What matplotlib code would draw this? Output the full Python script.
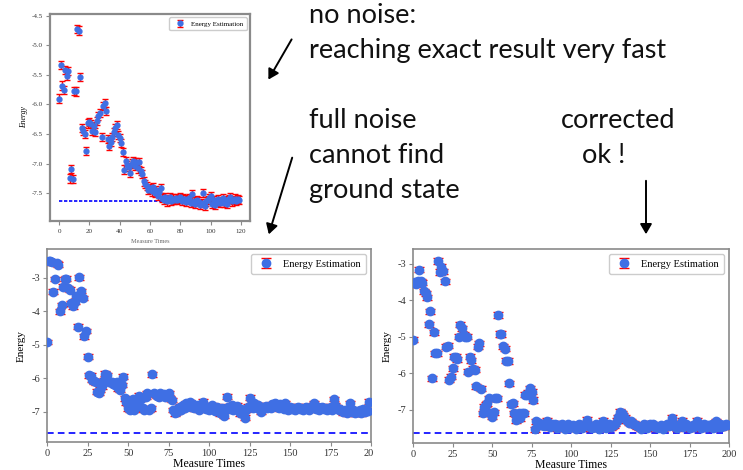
import numpy as np
import matplotlib
matplotlib.use("Agg")
import matplotlib.pyplot as plt
from matplotlib.patches import Rectangle, FancyArrowPatch

plt.rcParams['axes.unicode_minus'] = False

# ---------------- data ----------------
ground_state = -7.63

# no noise (top-left), measure times 0..119
nonoise_energy = [
    -5.90, -5.33, -5.68, -5.75, -5.42, -5.52, -5.43, -7.25, -7.09, -7.26,
    -5.77, -5.78, -4.72, -4.75, -5.53, -6.40, -6.45, -6.50, -6.79, -6.32,
    -6.30, -6.33, -6.45, -6.36, -6.47, -6.28, -6.20, -6.14, -6.55, -6.02,
    -5.97, -6.11, -6.58, -6.70, -6.63, -6.55, -6.47, -6.40, -6.35, -6.52,
    -6.57, -6.65, -6.80, -7.10, -6.96, -7.02, -7.06, -7.15, -7.00, -6.95,
    -7.04, -6.98, -7.08, -6.97, -7.12, -7.18, -7.30, -7.34, -7.38, -7.45,
    -7.42, -7.47, -7.40, -7.50, -7.44, -7.55, -7.48, -7.42, -7.58, -7.62,
    -7.57, -7.64, -7.60, -7.56, -7.63, -7.59, -7.61, -7.58, -7.62, -7.60,
    -7.57, -7.63, -7.59, -7.60, -7.65, -7.62, -7.58, -7.66, -7.52, -7.64,
    -7.68, -7.61, -7.63, -7.70, -7.66, -7.50, -7.72, -7.64, -7.61, -7.58,
    -7.55, -7.68, -7.62, -7.70, -7.65, -7.60, -7.67, -7.63, -7.58, -7.66,
    -7.62, -7.68, -7.60, -7.57, -7.64, -7.61, -7.59, -7.63, -7.60, -7.62,
]
nonoise_err = 0.07

# full noise (bottom-left), measure times 0..199
fullnoise_energy = [
    -4.92, -2.52, -2.52, -2.55, -3.42, -3.04, -2.58, -2.62, -4.01, -3.82,
    -3.27, -3.04, -3.03, -3.32, -3.36, -3.77, -3.86, -3.72, -3.55, -4.46,
    -2.99, -3.40, -3.61, -4.75, -4.59, -5.36, -5.91, -5.92, -6.05, -6.09,
    -6.12, -6.40, -6.44, -6.34, -6.24, -6.05, -5.86, -5.91, -6.10, -6.10,
    -6.12, -6.16, -6.20, -6.10, -6.30, -6.34, -6.20, -5.95, -6.60, -6.72,
    -6.90, -6.95, -6.75, -6.62, -6.95, -6.85, -6.70, -6.52, -6.62, -6.90,
    -6.95, -6.55, -6.45, -6.95, -6.90, -5.88, -6.45, -6.50, -6.52, -6.55,
    -6.45, -6.50, -6.46, -6.55, -6.50, -6.44, -6.60, -6.65, -6.95, -7.05,
    -7.00, -6.90, -6.85, -6.95, -6.80, -6.88, -6.75, -6.82, -6.72, -6.85,
    -6.78, -6.90, -6.85, -6.80, -6.95, -6.88, -6.70, -6.82, -6.92, -6.85,
    -6.95, -6.90, -6.80, -6.88, -6.98, -6.85, -6.92, -7.05, -6.88, -7.12,
    -6.95, -6.55, -6.85, -6.92, -6.80, -6.95, -6.88, -6.82, -6.95, -7.05,
    -6.92, -7.08, -7.18, -6.95, -6.85, -6.58, -6.80, -6.90, -6.75, -6.85,
    -6.80, -6.92, -7.00, -6.85, -6.88, -6.82, -6.90, -6.85, -6.88, -6.78,
    -6.80, -6.75, -6.85, -6.90, -6.78, -6.85, -6.92, -6.75, -6.90, -6.95,
    -6.85, -6.92, -6.88, -6.95, -6.90, -6.85, -6.92, -6.88, -6.95, -6.90,
    -6.85, -6.92, -6.95, -6.88, -6.80, -6.75, -6.92, -6.85, -6.95, -6.90,
    -6.85, -6.92, -6.88, -6.95, -6.90, -6.85, -6.95, -6.62, -6.80, -6.88,
    -6.95, -6.92, -6.98, -7.02, -6.95, -7.05, -6.98, -6.75, -7.02, -6.95,
    -7.05, -6.98, -7.02, -6.95, -7.05, -6.92, -7.00, -6.95, -6.98, -6.70,
]
fullnoise_err = 0.07

# corrected (bottom-right), measure times 0..199
corrected_energy = [
    -5.08, -3.50, -3.55, -3.48, -3.16, -3.47, -3.52, -3.75, -3.80, -3.91,
    -4.65, -4.30, -6.14, -4.87, -5.45, -5.45, -2.92, -3.22, -3.08, -3.20,
    -3.48, -5.27, -5.24, -6.18, -6.09, -5.86, -5.55, -5.54, -5.62, -4.99,
    -4.67, -4.76, -4.94, -4.99, -5.00, -5.95, -5.54, -5.64, -5.88, -5.90,
    -6.36, -5.27, -5.17, -6.42, -7.09, -6.91, -6.86, -6.82, -6.68, -7.10,
    -7.19, -7.07, -6.68, -6.68, -4.40, -4.92, -4.92, -5.26, -5.33, -5.65,
    -5.66, -6.27, -6.85, -6.82, -7.09, -7.28, -7.14, -7.09, -7.23, -7.09,
    -7.09, -6.59, -6.59, -6.53, -6.41, -6.50, -6.73, -7.53, -7.32, -7.40,
    -7.35, -7.42, -7.38, -7.45, -7.36, -7.30, -7.42, -7.48, -7.40, -7.45,
    -7.38, -7.50, -7.42, -7.46, -7.40, -7.48, -7.52, -7.44, -7.40, -7.50,
    -7.46, -7.42, -7.48, -7.52, -7.44, -7.40, -7.46, -7.50, -7.42, -7.38,
    -7.28, -7.40, -7.46, -7.50, -7.44, -7.48, -7.40, -7.45, -7.52, -7.42,
    -7.30, -7.46, -7.50, -7.44, -7.40, -7.48, -7.45, -7.42, -7.38, -7.30,
    -7.20, -7.05, -7.10, -7.15, -7.22, -7.28, -7.30, -7.35, -7.32, -7.40,
    -7.38, -7.42, -7.45, -7.48, -7.52, -7.46, -7.40, -7.44, -7.50, -7.42,
    -7.38, -7.45, -7.40, -7.48, -7.44, -7.50, -7.46, -7.42, -7.52, -7.48,
    -7.45, -7.40, -7.44, -7.38, -7.22, -7.40, -7.46, -7.50, -7.44, -7.42,
    -7.30, -7.48, -7.45, -7.40, -7.44, -7.50, -7.46, -7.42, -7.48, -7.40,
    -7.30, -7.45, -7.50, -7.44, -7.40, -7.46, -7.48, -7.42, -7.45, -7.40,
    -7.50, -7.44, -7.32, -7.46, -7.40, -7.48, -7.42, -7.45, -7.40, -7.42,
]
corrected_err = 0.07

legend_label = "Energy Estimation"
xlabel = "Measure Times"
ylabel = "Energy"

notes = {
    "nonoise": ["no noise:", "reaching exact result very fast"],
    "full": ["full noise", "cannot find", "ground state"],
    "corr": ["corrected", "ok !"],
}

# ---------------- figure ----------------
W, H = 743, 470
fig = plt.figure(figsize=(W / 100, H / 100), dpi=100)
fig.patch.set_facecolor("white")

def fx(px):
    return px / W

def fy(py):
    return 1 - py / H

serif = ["Liberation Serif", "DejaVu Serif"]
spine_col = "#8a8a8a"
mcol = "#3f6fe4"

def style_axes(ax, fs, lw, pad):
    for s in ax.spines.values():
        s.set_color(spine_col)
        s.set_linewidth(lw)
    ax.tick_params(colors="#333333", labelsize=fs, length=3, width=0.8,
                   color=spine_col, pad=pad)
    for lab in ax.get_xticklabels() + ax.get_yticklabels():
        lab.set_family(serif)

def panel(ax, yvals, err, ms, cap, fs, lw, dash, legfs, ylim, xlim, xt, yt,
          pad):
    x = np.arange(len(yvals))
    ax.errorbar(x, yvals, yerr=err, fmt="o", color=mcol, ms=ms,
                ecolor="red", elinewidth=1.0, capsize=cap, capthick=1.0,
                label=legend_label, zorder=3)
    ax.plot([x[0], x[-1]], [ground_state, ground_state], color="blue",
            linestyle=dash, lw=1.2, zorder=2)
    ax.set_xlim(*xlim)
    ax.set_ylim(*ylim)
    ax.set_xticks(xt)
    ax.set_yticks(yt)
    style_axes(ax, fs, lw, pad)
    leg = ax.legend(loc="upper right", prop={"family": serif, "size": legfs},
                    fancybox=True, framealpha=1, edgecolor="#cccccc",
                    handletextpad=0.6, borderpad=0.5)
    return leg

# top-left: no noise
ax1 = fig.add_axes([fx(50), fy(221), fx(200), (221 - 14) / H], zorder=0)
yt1 = np.arange(-7.5, -4.4, 0.5)
panel(ax1, nonoise_energy, nonoise_err, 3.5, 2.5, 5, 1.6, (0, (2, 1)), 5,
      (-7.97, -4.47), (-6, 126), np.arange(0, 121, 20), yt1, 2.5)
ax1.set_yticklabels([f"{v:.1f}" for v in yt1])
for lab in ax1.get_xticklabels() + ax1.get_yticklabels():
    lab.set_family(serif)
ax1.set_ylabel(ylabel, family=serif, style="italic", fontsize=5.5, labelpad=2)
ax1.set_xlabel(xlabel, family=serif, fontsize=4.5, labelpad=4, color="#666666")

# cover lower part of top screenshot
fig.add_artist(Rectangle((0, 0), fx(373), fy(247), transform=fig.transFigure,
                         facecolor="white", edgecolor="none", zorder=0.5))

# bottom-left: full noise
ax2 = fig.add_axes([fx(47), fy(442), fx(324), (442 - 249) / H], zorder=1)
panel(ax2, fullnoise_energy, fullnoise_err, 6, 3.5, 7.5, 1.2, (0, (4, 2.5)),
      7.5, (-7.9, -2.15), (0, 200), np.arange(0, 201, 25),
      np.arange(-7, -2.9, 1), 2)
ax2.set_ylabel(ylabel, family=serif, fontsize=8, labelpad=4)
ax2.set_xlabel(xlabel, family=serif, fontsize=8.5, labelpad=0)

# cover right part of bottom-left screenshot
fig.add_artist(Rectangle((fx(373), 0), 1 - fx(373), fy(244),
                         transform=fig.transFigure, facecolor="white",
                         edgecolor="none", zorder=1.5))

# bottom-right: corrected
ax3 = fig.add_axes([fx(413), fy(443), fx(316), (443 - 249) / H], zorder=2)
panel(ax3, corrected_energy, corrected_err, 6, 3.5, 7.5, 1.2, (0, (4, 2.5)),
      7.5, (-7.91, -2.59), (0, 200), np.arange(0, 201, 25),
      np.arange(-7, -2.9, 1), 2)
ax3.set_ylabel(ylabel, family=serif, fontsize=8, labelpad=4)
ax3.set_xlabel(xlabel, family=serif, fontsize=8.5, labelpad=0)

# ---------------- annotations ----------------
note_font = ["Lato", "DejaVu Sans"]
fs_note = 19.5
lines = [
    (309, 23, notes["nonoise"][0]),
    (309, 58, notes["nonoise"][1]),
    (309, 128, notes["full"][0]),
    (309, 163, notes["full"][1]),
    (309, 198, notes["full"][2]),
    (561, 128, notes["corr"][0]),
    (582, 163, notes["corr"][1]),
]
for x, y, t in lines:
    fig.text(fx(x), fy(y), t, family=note_font, fontsize=fs_note,
             ha="left", va="baseline", color="#111111", zorder=5)

arrows = [((293, 37), (267, 82)), ((293, 155), (268, 237)),
          ((646, 178), (646, 237))]
for (x0, y0), (x1, y1) in arrows:
    fig.add_artist(FancyArrowPatch((fx(x0), fy(y0)), (fx(x1), fy(y1)),
                                   transform=fig.transFigure,
                                   arrowstyle="-|>,head_length=6,head_width=3.5",
                                   color="black", lw=1.4, zorder=5))

fig.savefig("out.png", dpi=100, facecolor="white")
